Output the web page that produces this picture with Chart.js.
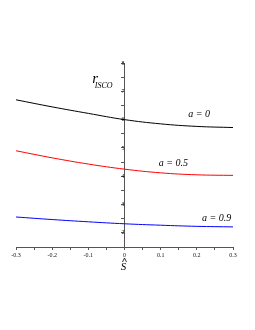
<!DOCTYPE html>
<html>
<head>
<meta charset="utf-8">
<script src="https://cdn.jsdelivr.net/npm/chart.js@4"></script>
<style>
  html, body { margin: 0; padding: 0; background: #fff; }
  #wrap { width: 255px; height: 330px; }
</style>
</head>
<body>
<div id="wrap"><canvas id="chart"></canvas></div>
<script>
const spinValues = [-0.3, -0.2, -0.1, 0, 0.1, 0.2, 0.3];
const rIscoA0 = [6.70, 6.45, 6.22, 6.00, 5.85, 5.76, 5.72];
const rIscoA05 = [4.90, 4.65, 4.43, 4.25, 4.12, 4.05, 4.03];
const rIscoA09 = [2.56, 2.47, 2.39, 2.32, 2.27, 2.23, 2.21];
const seriesLabels = ['a = 0', 'a = 0.5', 'a = 0.9'];

const toPoints = (ys) => spinValues.map((x, i) => ({ x: x, y: ys[i] }));

const serif = "'Liberation Serif', 'DejaVu Serif', serif";

// curve labels and axis titles, drawn in data coordinates
const labelsPlugin = {
    id: 'labels',
    afterDraw(chart) {
        const ctx = chart.ctx;
        const xs = chart.scales.x, ys = chart.scales.y;
        const put = (text, x, y, font, align) => {
            ctx.font = font;
            ctx.textAlign = align || 'left';
            ctx.textBaseline = 'middle';
            ctx.fillStyle = '#000';
            ctx.fillText(text, xs.getPixelForValue(x), ys.getPixelForValue(y));
        };
        ctx.save();
        put(seriesLabels[0], 0.176, 6.2, 'italic 10px ' + serif);
        put(seriesLabels[1], 0.095, 4.47, 'italic 10px ' + serif);
        put(seriesLabels[2], 0.214, 2.52, 'italic 10px ' + serif);
        put('r', -0.089, 7.42, 'italic 15px ' + serif);
        put('ISCO', -0.082, 7.2, 'italic 8px ' + serif);
        // S-hat under the x axis
        const cx = xs.getPixelForValue(0);
        ctx.strokeStyle = '#000';
        ctx.lineWidth = 0.8;
        ctx.beginPath();
        ctx.moveTo(cx - 2, 262);
        ctx.lineTo(cx, 258);
        ctx.lineTo(cx + 2, 262);
        ctx.stroke();
        ctx.textAlign = 'center';
        ctx.textBaseline = 'middle';
        ctx.font = 'italic 11px ' + serif;
        ctx.fillText('S', cx - 1, 267);
        ctx.restore();
    }
};

const lineStyle = (color) => ({
    borderColor: color,
    backgroundColor: color,
    borderWidth: 1,
    pointRadius: 0,
    tension: 0.4,
    fill: false
});

new Chart(document.getElementById('chart').getContext('2d'), {
    type: 'line',
    data: {
        datasets: [
            Object.assign({ label: seriesLabels[0], data: toPoints(rIscoA0) }, lineStyle('#000000')),
            Object.assign({ label: seriesLabels[1], data: toPoints(rIscoA05) }, lineStyle('#ff0000')),
            Object.assign({ label: seriesLabels[2], data: toPoints(rIscoA09) }, lineStyle('#0000ff'))
        ]
    },
    options: {
        responsive: true,
        maintainAspectRatio: false,
        animation: false,
        layout: { padding: { left: 16, right: 22, top: 63, bottom: 63 } },
        plugins: {
            legend: { display: false },
            tooltip: { enabled: false }
        },
        scales: {
            x: {
                type: 'linear',
                min: -0.3,
                max: 0.3,
                afterFit: (scale) => { scale.height = 20; },
                border: { display: true, color: '#555', width: 1 },
                grid: { display: true, drawOnChartArea: false, drawTicks: true, tickLength: 3, color: '#555' },
                ticks: {
                    stepSize: 0.05,
                    autoSkip: false,
                    maxRotation: 0,
                    padding: 2,
                    color: '#111',
                    font: { family: serif, size: 6 },
                    callback: (v) => {
                        if (Math.abs(v * 10 - Math.round(v * 10)) > 1e-6) return '';
                        const r = Math.round(v * 10) / 10;
                        return r === 0 ? '0' : r.toFixed(1);
                    }
                }
            },
            y: {
                type: 'linear',
                position: { x: 0 },
                min: 1.5,
                max: 8,
                border: { display: true, color: '#555', width: 1 },
                grid: { display: true, drawOnChartArea: false, drawTicks: true, tickLength: 3, color: '#555' },
                ticks: {
                    stepSize: 0.5,
                    autoSkip: false,
                    padding: 2,
                    color: '#111',
                    font: { family: serif, size: 6 },
                    callback: (v) => Number.isInteger(v) && v >= 2 ? String(v) : ''
                }
            }
        }
    },
    plugins: [labelsPlugin]
});
</script>
</body>
</html>
